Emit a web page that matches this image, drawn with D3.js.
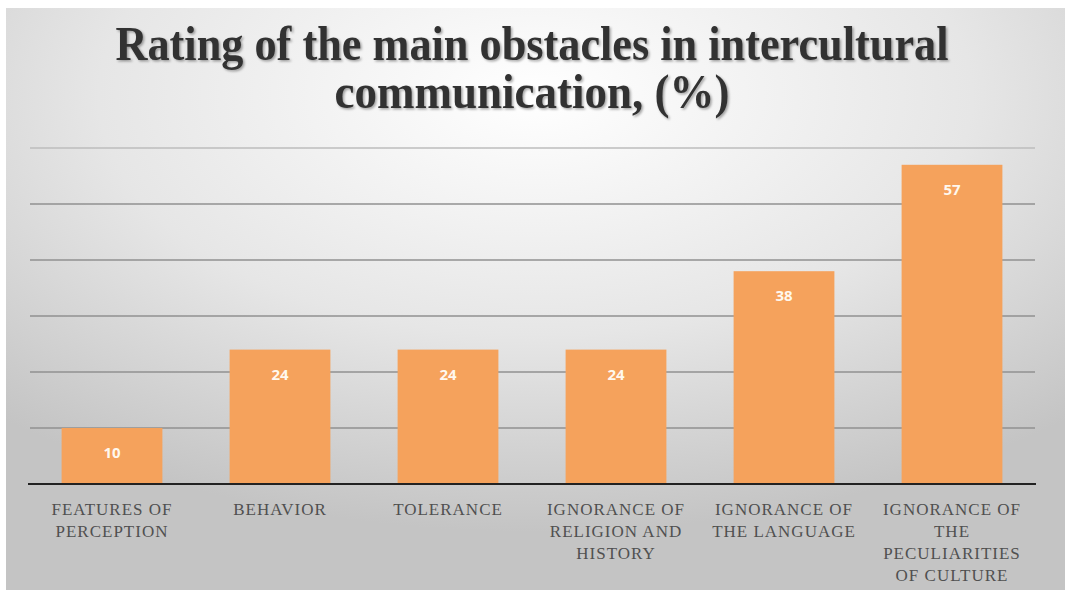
<!DOCTYPE html>
<html>
<head>
<meta charset="utf-8">
<script src="https://cdn.jsdelivr.net/npm/d3@7"></script>
<style>
  body { margin: 0; background: #fff; }
  svg { display: block; }
</style>
</head>
<body>
<svg id="chart" width="1065" height="592"></svg>
<script>
const categories = [
  ['FEATURES OF', 'PERCEPTION'],
  ['BEHAVIOR'],
  ['TOLERANCE'],
  ['IGNORANCE OF', 'RELIGION AND', 'HISTORY'],
  ['IGNORANCE OF', 'THE LANGUAGE'],
  ['IGNORANCE OF', 'THE', 'PECULIARITIES', 'OF CULTURE']
];
const values = [10, 24, 24, 24, 38, 57];
const yTicks = [0, 10, 20, 30, 40, 50, 60];
const titleLines = ['Rating of the main obstacles in intercultural', 'communication, (%)'];

const svg = d3.select('#chart');
const defs = svg.append('defs');

const grad = defs.append('radialGradient')
  .attr('id', 'bg')
  .attr('cx', '50%').attr('cy', '15%').attr('r', '75%');
grad.append('stop').attr('offset', '0%').attr('stop-color', '#ffffff');
grad.append('stop').attr('offset', '55%').attr('stop-color', '#e6e6e6');
grad.append('stop').attr('offset', '100%').attr('stop-color', '#c4c4c4');

const shadow = defs.append('filter').attr('id', 'shadow');
shadow.append('feDropShadow')
  .attr('dx', 1.5).attr('dy', 1.5).attr('stdDeviation', 1)
  .attr('flood-color', '#000').attr('flood-opacity', 0.35);

svg.append('rect')
  .attr('x', 6).attr('y', 8)
  .attr('width', 1059).attr('height', 582)
  .attr('fill', 'url(#bg)');

const x = d3.scaleBand()
  .domain(d3.range(values.length))
  .range([28, 1036])
  .paddingInner(0.4)
  .paddingOuter(0.2);

const y = d3.scaleLinear()
  .domain([0, 60])
  .range([484, 148]);

// gridlines
svg.append('g')
  .selectAll('line')
  .data(yTicks.slice(1))
  .join('line')
  .attr('x1', 30).attr('x2', 1035)
  .attr('y1', d => y(d)).attr('y2', d => y(d))
  .attr('stroke', d => d === 60 ? '#bdbdbd' : '#909090')
  .attr('stroke-width', 1.3);

// bars
svg.append('g')
  .selectAll('rect')
  .data(values)
  .join('rect')
  .attr('x', (d, i) => x(i))
  .attr('y', d => y(d))
  .attr('width', x.bandwidth())
  .attr('height', d => y(0) - y(d))
  .attr('fill', '#f5a25c');

// baseline
svg.append('line')
  .attr('x1', 28).attr('x2', 1036)
  .attr('y1', y(0)).attr('y2', y(0))
  .attr('stroke', '#222')
  .attr('stroke-width', 2);

// value labels
svg.append('g')
  .selectAll('text')
  .data(values)
  .join('text')
  .attr('x', (d, i) => x(i) + x.bandwidth() / 2)
  .attr('y', d => y(d) + 30)
  .attr('text-anchor', 'middle')
  .attr('font-family', '"Open Sans", "DejaVu Sans", sans-serif')
  .attr('font-weight', 'bold')
  .attr('font-size', 15)
  .attr('fill', '#fff8ee')
  .text(d => d);

// category labels
const catG = svg.append('g')
  .selectAll('text')
  .data(categories)
  .join('text')
  .attr('text-anchor', 'middle')
  .attr('font-family', '"Liberation Serif", "DejaVu Serif", serif')
  .attr('font-size', 17)
  .attr('letter-spacing', 1)
  .attr('fill', '#505050');
catG.selectAll('tspan')
  .data((d, i) => d.map(line => ({ line, i })))
  .join('tspan')
  .attr('x', d => x(d.i) + x.bandwidth() / 2)
  .attr('y', (d, j) => 515 + j * 22)
  .text(d => d.line);

// title
svg.append('g')
  .attr('filter', 'url(#shadow)')
  .selectAll('text')
  .data(titleLines)
  .join('text')
  .attr('x', 532)
  .attr('y', (d, i) => 60 + i * 48)
  .attr('text-anchor', 'middle')
  .attr('font-family', '"Liberation Serif", "DejaVu Serif", serif')
  .attr('font-weight', 'bold')
  .attr('font-size', 48)
  .attr('fill', '#333')
  .attr('textLength', (d, i) => i === 0 ? 833 : 395)
  .attr('lengthAdjust', 'spacingAndGlyphs')
  .text(d => d);
</script>
</body>
</html>
